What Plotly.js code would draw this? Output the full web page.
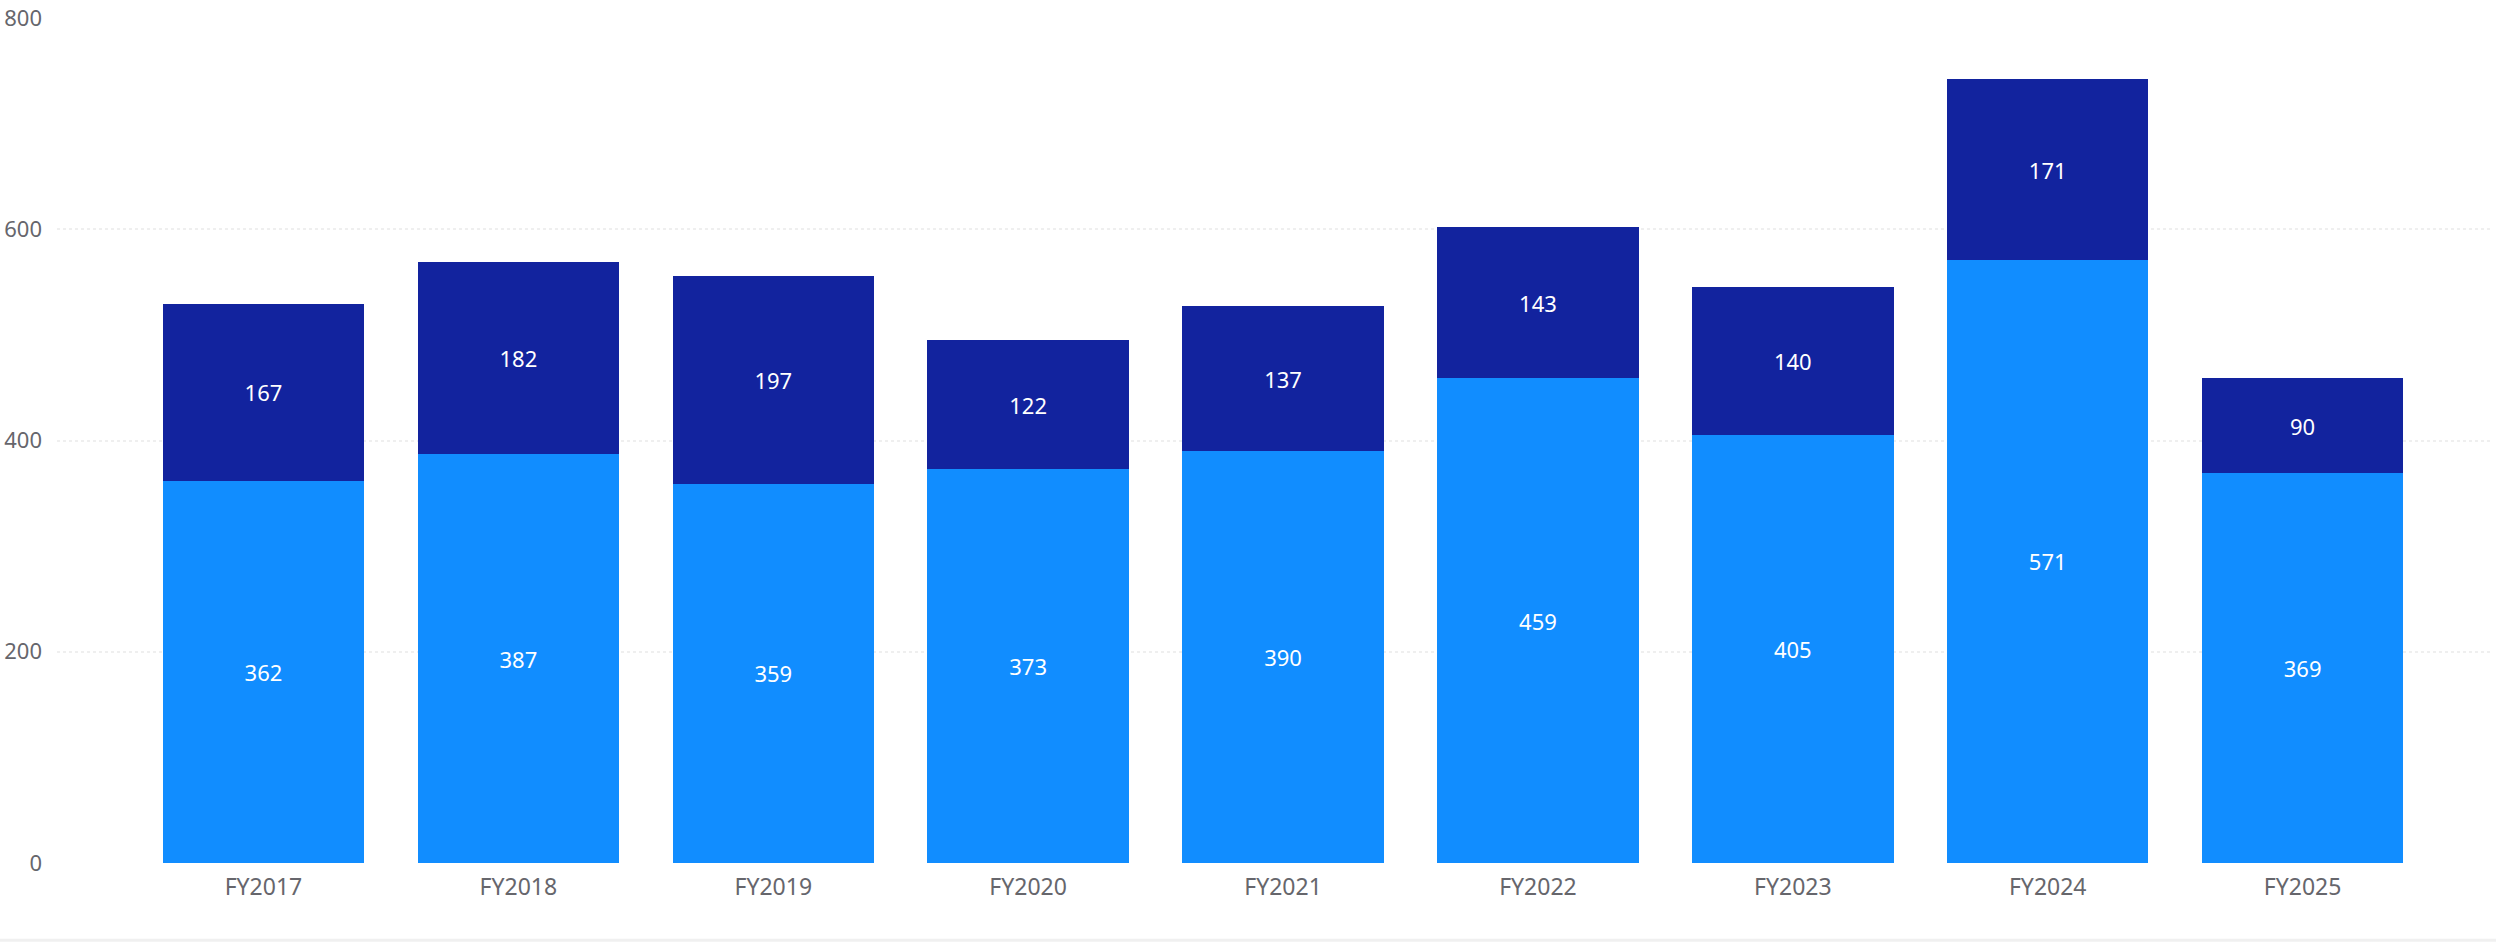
<!DOCTYPE html>
<html>
<head>
<meta charset="utf-8">
<script src="https://cdn.plot.ly/plotly-3.0.1.min.js"></script>
<style>html,body{margin:0;padding:0;background:#fff;}#chart{width:2496px;height:944px;}</style>
</head>
<body>
<div id="chart"></div>
<script>
const categories = ["FY2017","FY2018","FY2019","FY2020","FY2021","FY2022","FY2023","FY2024","FY2025"];
const lowerValues = [362,387,359,373,390,459,405,571,369];
const upperValues = [167,182,197,122,137,143,140,171,90];
const yTicks = [0,200,400,600,800];

const font = '"Segoe UI", "Noto Sans", "Open Sans", sans-serif';
const labelColor = '#66666c';
const traces = [
  {type:'bar', x:categories, y:lowerValues, name:'A', marker:{color:'#118DFF'},
   text:lowerValues.map(String), textposition:'inside', insidetextanchor:'middle',
   textfont:{color:'#ffffff', size:22, family:font}, hoverinfo:'x+y'},
  {type:'bar', x:categories, y:upperValues, name:'B', marker:{color:'#12239E'},
   text:upperValues.map(String), textposition:'inside', insidetextanchor:'middle',
   textfont:{color:'#ffffff', size:22, family:font}, hoverinfo:'x+y'}
];
const layout = {
  width:2496, height:944,
  barmode:'stack', bargap:0.21,
  showlegend:false,
  paper_bgcolor:'#ffffff', plot_bgcolor:'#ffffff',
  margin:{l:57, r:4, t:18, b:81, pad:0},
  font:{family:font, size:22, color:labelColor},
  xaxis:{type:'category', range:[-0.81, 8.743], showgrid:false, zeroline:false, showline:false,
         ticks:'', tickfont:{size:23, color:labelColor, family:font}, ticklabelstandoff:8},
  yaxis:{range:[0,800], tickvals:yTicks, ticktext:yTicks.map(String), showgrid:true,
         gridcolor:'#efefef', griddash:'dot', gridwidth:2, zeroline:false, showline:false,
         ticks:'', tickfont:{size:22, color:labelColor, family:font}, ticklabelstandoff:14},
  shapes:[{type:'line', xref:'paper', yref:'paper', x0:-0.03, x1:1.01, y0:-0.0915, y1:-0.0915,
           line:{color:'#f0f0f0', width:3}}]
};
Plotly.newPlot('chart', traces, layout, {displayModeBar:false, staticPlot:true});
</script>
</body>
</html>
